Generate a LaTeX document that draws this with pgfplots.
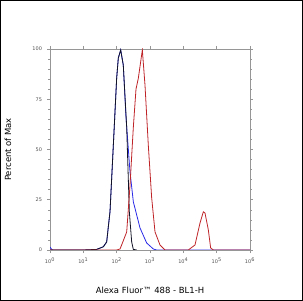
\documentclass[border=0pt]{standalone}
\usepackage{pgfplots}
\pgfplotsset{compat=1.18}
\usepackage{fontspec}
\setmainfont{DejaVu Sans}
\definecolor{axgray}{RGB}{150,150,150}
\definecolor{tickgray}{RGB}{80,80,80}
\definecolor{cblue}{RGB}{40,40,230}
\definecolor{cred}{RGB}{190,35,40}
\definecolor{cblack}{RGB}{20,20,40}
\begin{document}
\begin{tikzpicture}
\useasboundingbox (0,0) rectangle (303bp,301bp);
\draw[line width=1.2bp,black] (0.6bp,0.6bp) rectangle (302.4bp,300.4bp);
\begin{axis}[
  at={(50bp,51bp)}, anchor=south west,
  scale only axis, width=200bp, height=201bp,
  xmode=log, log basis x=10,
  xmin=1, xmax=1e6, ymin=0, ymax=100,
  axis line style={axgray, line width=0.6bp},
  tick style={axgray, line width=0.5bp},
  tick align=outside,
  major tick length=3bp, minor tick length=2bp,
  xtick={1,10,100,1000,10000,100000,1000000},
  xticklabels={10\textsuperscript{0},10\textsuperscript{1},10\textsuperscript{2},10\textsuperscript{3},10\textsuperscript{4},10\textsuperscript{5},10\textsuperscript{6}},
  ytick={0,25,50,75,100},
  yticklabels={0,25,50,75,100},
  minor y tick num=4,
  ticklabel style={font=\fontsize{5}{6}\selectfont, text=tickgray},
  xticklabel style={yshift=-1bp},
  yticklabel style={xshift=-1.5bp},
  xlabel={Alexa Fluor™ 488 - BL1-H},
  ylabel={Percent of Max},
  label style={font=\fontsize{8.5}{10}\selectfont},
  xlabel style={at={(axis description cs:0.5,-0.2)}, anchor=center},
  ylabel style={at={(axis description cs:-0.21,0.5)}, anchor=center},
  clip=true,
]
\addplot[cblue, line width=0.8bp] coordinates {
(1,1.5) (1.12,0.3) (1.26,0) (10,0) (25.1,0.3) (39.8,1.6) (50.1,4) (63.1,19) (79.4,52) (100,85.5) (112,95.5) (132,99.5) (158,92) (190.5,66) (251,39) (316,24) (501,11) (794,3.5) (1259,0.5) (1585,0) (1000000,0)
};
\addplot[cblack, line width=0.8bp] coordinates {
(1,0) (10,0) (25.1,0.3) (39.8,1.6) (50.1,4) (63.1,19) (79.4,52) (100,85.5) (112,95.5) (132,99.5) (158,92) (200,61) (240,19) (282,4) (316,0.3) (400,0)
};
\addplot[cred, line width=0.8bp] coordinates {
(1,0) (100,0) (126,0.5) (141,2.5) (200,9) (251,32) (316,61) (380,80) (447,85.5) (589,99.5) (708,82) (891,52) (1122,26) (1413,9) (1995,2.5) (2818,0) (14125,0) (22387,2.5) (31623,13.4) (39811,19) (44668,18.4) (56234,10) (66069,1) (79433,0) (1000000,0)
};
\end{axis}
\end{tikzpicture}
\end{document}
